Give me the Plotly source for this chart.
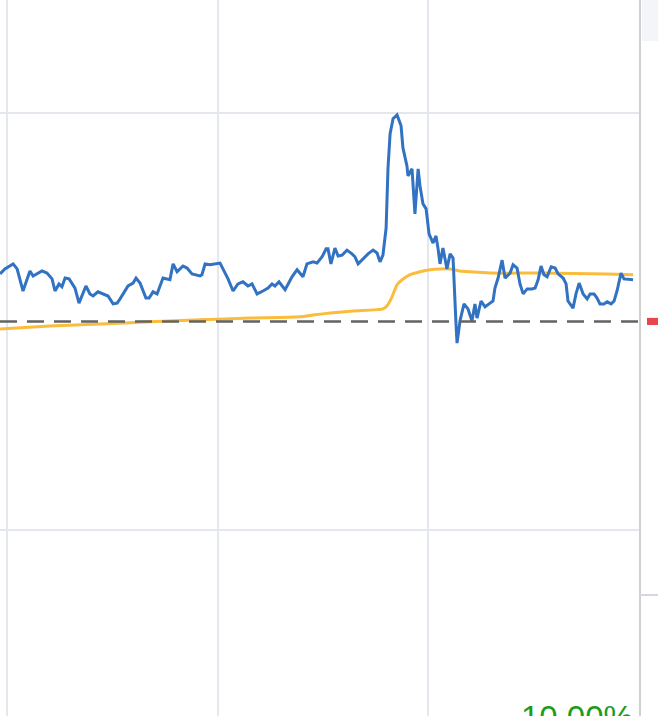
import plotly.graph_objects as go

# ---- data (x in fractional years, y in %) ----
blue_x = [2020.967, 2020.990, 2021.029, 2021.048, 2021.076, 2021.109, 2021.124, 2021.166, 2021.190, 2021.214,
          2021.228, 2021.247, 2021.261, 2021.276, 2021.295, 2021.323, 2021.342, 2021.375, 2021.394, 2021.409,
          2021.432, 2021.456, 2021.480, 2021.504, 2021.523, 2021.537, 2021.575, 2021.599, 2021.613, 2021.632,
          2021.660, 2021.675, 2021.694, 2021.713, 2021.741, 2021.774, 2021.789, 2021.808, 2021.836, 2021.855,
          2021.879, 2021.917, 2021.926, 2021.941, 2021.964, 2022.012, 2022.036, 2022.050, 2022.074, 2022.097,
          2022.121, 2022.145, 2022.164, 2022.188, 2022.216, 2022.240, 2022.259, 2022.273, 2022.292, 2022.321,
          2022.354, 2022.378, 2022.406, 2022.425, 2022.454, 2022.473, 2022.497, 2022.516, 2022.525, 2022.539,
          2022.558, 2022.573, 2022.592, 2022.615, 2022.639, 2022.653, 2022.668, 2022.691, 2022.715, 2022.739,
          2022.758, 2022.772, 2022.786, 2022.801, 2022.810, 2022.820, 2022.834, 2022.853, 2022.872, 2022.881,
          2022.900, 2022.905, 2022.924, 2022.938, 2022.953, 2022.962, 2022.976, 2022.991, 2023.005, 2023.024,
          2023.038, 2023.048, 2023.057, 2023.071, 2023.090, 2023.105, 2023.119, 2023.133, 2023.138, 2023.152,
          2023.171, 2023.190, 2023.209, 2023.223, 2023.233, 2023.252, 2023.271, 2023.290, 2023.309, 2023.318,
          2023.333, 2023.352, 2023.366, 2023.390, 2023.404, 2023.423, 2023.437, 2023.452, 2023.471, 2023.494,
          2023.509, 2023.523, 2023.537, 2023.551, 2023.566, 2023.585, 2023.604, 2023.618, 2023.642, 2023.656,
          2023.665, 2023.689, 2023.703, 2023.718, 2023.737, 2023.756, 2023.770, 2023.789, 2023.803, 2023.817,
          2023.836, 2023.851, 2023.870, 2023.884, 2023.898, 2023.917, 2023.931, 2023.974]
blue_y = [6.14, 6.26, 6.38, 6.26, 5.73, 6.21, 6.09, 6.21, 6.16, 6.02,
          5.73, 5.90, 5.83, 6.04, 6.02, 5.80, 5.44, 5.85, 5.66, 5.61,
          5.71, 5.66, 5.61, 5.42, 5.44, 5.54, 5.85, 5.92, 6.04, 5.92,
          5.56, 5.56, 5.71, 5.66, 6.04, 6.00, 6.38, 6.19, 6.33, 6.28,
          6.14, 6.09, 6.12, 6.38, 6.36, 6.40, 6.16, 6.02, 5.73, 5.90,
          5.95, 5.85, 5.90, 5.66, 5.73, 5.80, 5.90, 5.85, 5.95, 5.76,
          6.07, 6.24, 6.07, 6.38, 6.43, 6.40, 6.55, 6.74, 6.74, 6.38,
          6.76, 6.57, 6.59, 6.71, 6.62, 6.55, 6.38, 6.50, 6.62, 6.71,
          6.64, 6.43, 6.59, 7.24, 8.68, 9.50, 9.86, 9.95, 9.69, 9.16,
          8.73, 8.49, 8.66, 7.58, 8.66, 8.25, 7.82, 7.70, 7.10, 6.88,
          7.05, 6.74, 6.38, 6.76, 6.26, 6.62, 6.52, 4.94, 4.48, 5.01,
          5.42, 5.30, 5.01, 5.42, 5.08, 5.49, 5.35, 5.42, 5.49, 5.80,
          6.04, 6.47, 6.04, 6.16, 6.36, 6.28, 5.90, 5.66, 5.78, 5.78,
          5.80, 6.00, 6.33, 6.12, 6.07, 6.31, 6.28, 6.14, 6.04, 5.90,
          5.49, 5.32, 5.66, 5.92, 5.66, 5.54, 5.66, 5.66, 5.56, 5.42,
          5.42, 5.47, 5.42, 5.49, 5.73, 6.16, 6.02, 6.00]

avg_x = [2020.967, 2021.204, 2021.442, 2021.679, 2021.917, 2022.154, 2022.392, 2022.463, 2022.535, 2022.644,
         2022.786, 2022.805, 2022.829, 2022.853, 2022.877, 2022.915, 2022.962, 2023.010, 2023.057, 2023.105,
         2023.152, 2023.200, 2023.295, 2023.532, 2023.851, 2023.974]
avg_y = [4.82, 4.89, 4.94, 4.99, 5.04, 5.08, 5.11, 5.16, 5.20, 5.25,
         5.30, 5.37, 5.59, 5.88, 6.00, 6.12, 6.19, 6.24, 6.26, 6.26,
         6.21, 6.19, 6.16, 6.16, 6.14, 6.12]

ref_level = 5.0
label_text = "10.00%"
year_ticks = [2021, 2022, 2023, 2024]

fig = go.Figure()
fig.add_trace(go.Scatter(x=avg_x, y=avg_y, mode="lines",
                         line=dict(color="#fbbc3c", width=3, shape="spline", smoothing=0.6),
                         hoverinfo="skip", showlegend=False))
fig.add_trace(go.Scatter(x=blue_x, y=blue_y, mode="lines",
                         line=dict(color="#3172c2", width=3),
                         hoverinfo="skip", showlegend=False))

# reference dashed line
fig.add_hline(y=ref_level, line=dict(color="#636363", width=2.5, dash="17px,10px"), layer="above")

# marker on right axis at reference level
fig.add_shape(type="rect", xref="paper", yref="y", x0=1.0125, x1=1.035,
              y0=ref_level - 0.085, y1=ref_level + 0.085,
              fillcolor="#e8464a", line=dict(width=0), layer="above")
# top-right panel box
fig.add_shape(type="rect", xref="paper", yref="paper", x0=1.0047, x1=1.035, y0=0.9427, y1=1.0,
              fillcolor="#f4f5f9", line=dict(width=0), layer="above")
# separator tick on right
fig.add_shape(type="line", xref="paper", yref="paper", x0=1.0, x1=1.035, y0=0.169, y1=0.169,
              line=dict(color="#d3d8e0", width=2), layer="above")

fig.add_annotation(text=label_text, xref="paper", yref="paper", x=0.9937, y=0.0265,
                   xanchor="right", yanchor="top", showarrow=False,
                   font=dict(family="Liberation Sans, Arial", size=33, color="#1c9c1c"))

fig.update_layout(
    width=658, height=716,
    margin=dict(l=0, r=19, t=0, b=0),
    paper_bgcolor="white", plot_bgcolor="white",
    hovermode=False,
)
fig.update_xaxes(range=[2020.9667, 2024.0024], tickvals=year_ticks, showticklabels=False,
                 showgrid=True, gridcolor="#e4e7ee", gridwidth=2, zeroline=False, ticks="")
fig.update_yaxes(range=[-4.462, 12.708], dtick=10, tick0=0, showticklabels=False,
                 showgrid=True, gridcolor="#e4e7ee", gridwidth=2, zeroline=False, ticks="",
                 side="right", showline=True, linecolor="#d0d0d0", linewidth=1.5)

fig.write_html("out.html", config={"displayModeBar": False},
               post_script="document.body.style.margin='0';document.body.style.overflow='hidden';")
